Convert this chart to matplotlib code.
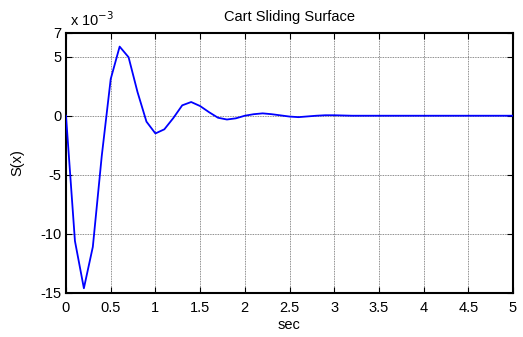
import numpy as np
import matplotlib.pyplot as plt

plt.rcParams['font.family'] = ['Liberation Sans', 'DejaVu Sans']

# tiempo (s) y superficie deslizante S(x) en unidades de 1e-3
t = [0.0, 0.1, 0.2, 0.3, 0.4, 0.5, 0.6, 0.7, 0.8, 0.9,
     1.0, 1.1, 1.2, 1.3, 1.4, 1.5, 1.6, 1.7, 1.8, 1.9,
     2.0, 2.1, 2.2, 2.3, 2.4, 2.5, 2.6, 2.7, 2.8, 2.9,
     3.0, 3.1, 3.2, 3.5, 4.0, 4.5, 5.0]
s = [0.0, -10.6, -14.6, -11.1, -3.4, 3.1, 5.85, 4.95, 2.0, -0.5,
     -1.5, -1.15, -0.2, 0.88, 1.16, 0.82, 0.3, -0.17, -0.32, -0.22,
     0.0, 0.13, 0.2, 0.13, 0.03, -0.07, -0.12, -0.06, 0.0, 0.04,
     0.04, 0.02, 0.0, 0.0, 0.0, 0.0, 0.0]

xticks = [0, 0.5, 1, 1.5, 2, 2.5, 3, 3.5, 4, 4.5, 5]
yticks = [-15, -10, -5, 0, 5, 7]

fig = plt.figure(figsize=(5.23, 3.37), dpi=100)
ax = fig.add_axes([66 / 523, 1 - 293 / 337, 447 / 523, 260 / 337])

ax.plot(t, s, color='#0000ff', lw=1.3, zorder=3)

ax.set_xlim(0, 5)
ax.set_ylim(-15, 7)
ax.set_xticks(xticks)
ax.set_xticklabels(['0', '0.5', '1', '1.5', '2', '2.5', '3', '3.5', '4', '4.5', '5'])
ax.set_yticks(yticks)
ax.set_yticklabels(['-15', '-10', '-5', '0', '5', '7'])
ax.tick_params(direction='in', top=True, right=True, labelsize=10.5, length=4, width=0.8)
ax.tick_params(axis='x', pad=6)
ax.tick_params(axis='y', pad=3)
ax.grid(True, color='#666666', linestyle=(0, (1, 1)), linewidth=0.6)
for sp in ax.spines.values():
    sp.set_linewidth(1.5)

ax.set_title('Cart Sliding Surface', fontsize=10.5, pad=9)
ax.set_xlabel('sec', fontsize=10.5, labelpad=2)
ax.set_ylabel('S(x)', fontsize=10.5, labelpad=12)
ax.text(0.0, 1.015, ' x 10$^{-3}$', transform=ax.transAxes, fontsize=10.5, va='bottom', ha='left')

fig.savefig('out.png', dpi=100)
